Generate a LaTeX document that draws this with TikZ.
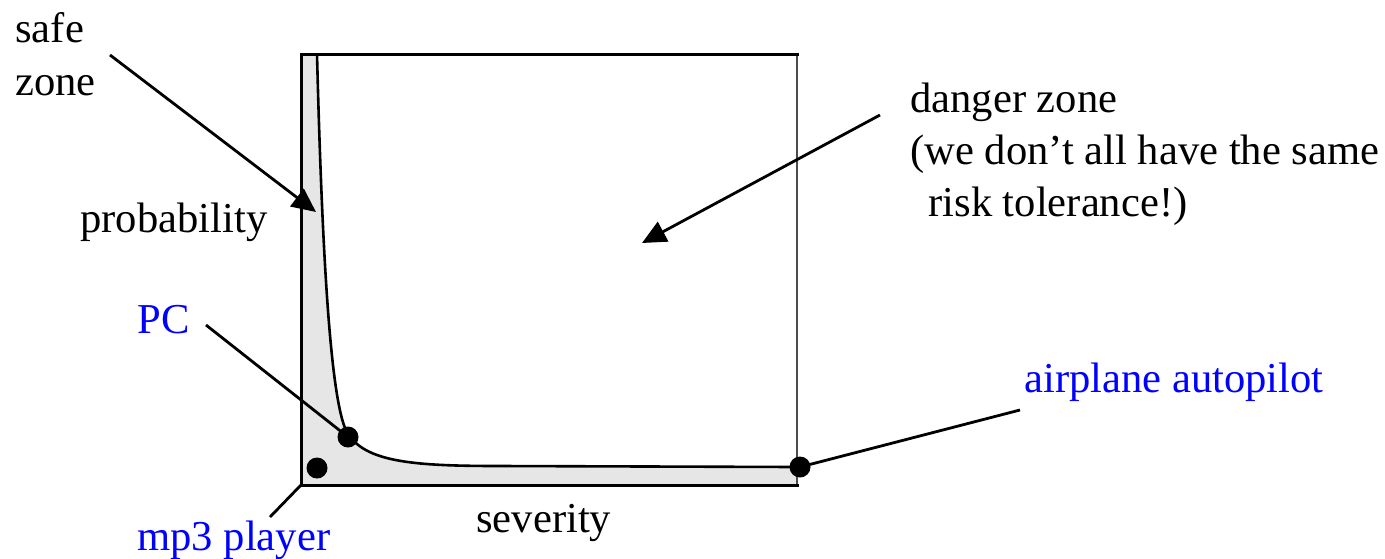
\documentclass[tikz,border=0pt]{standalone}
\usepackage{fontspec}
\setmainfont{Liberation Serif}
\usetikzlibrary{arrows.meta}
\definecolor{zonegray}{RGB}{230,230,230}
\definecolor{lblblue}{RGB}{0,0,255}
\begin{document}
\begin{tikzpicture}[x=0.5pt,y=-0.5pt,
  lbl/.style={font=\fontsize{21.3}{26}\selectfont, inner sep=0pt, anchor=base west},
  bluelbl/.style={lbl, text=lblblue},
  dot/.style={circle, fill=black, inner sep=0pt, minimum size=10.5pt},
  conn/.style={line width=1.4pt},
  arr/.style={conn, -{Triangle[length=12pt,width=11pt]}},
  axis/.style={line width=1.5pt, line cap=rect}
]
\useasboundingbox (0,0) rectangle (1385,558);
% safe region fill
\fill[zonegray] (301,54) -- (317,54) .. controls (322,250) and (330,390) .. (345,428)
  .. controls (360,462) and (410,466) .. (500,466) -- (797,467) -- (797,485) -- (301,485) -- cycle;
% box
\draw[line width=0.6pt, black!70] (797,54) -- (797,485);
\draw[axis] (797,54) -- (301,54) -- (301,485) -- (797,485);
% curve
\draw[line width=1.3pt] (317,54) .. controls (322,250) and (330,390) .. (345,428)
  .. controls (360,462) and (410,466) .. (500,466) -- (797,467);
% labels
\node[lbl] (safe) at (15,42) {safe};
\node[lbl] (zone) at (15,95) {zone};
\node[lbl] (prob) at (80,232) {probability};
\node[lbl] (danger1) at (910,112) {danger zone};
\node[lbl] (danger2) at (910,164) {(we don’t all have the same};
\node[lbl] (danger3) at (928,216) {risk tolerance!)};
\node[lbl] (sev) at (476,532) {severity};
\node[bluelbl] (pc) at (137,333) {PC};
\node[bluelbl] (auto) at (1024,392) {airplane autopilot};
\node[bluelbl] (mp3) at (137,550) {mp3 player};
% dots
\node[dot] (pcdot) at (348,437) {};
\node[dot] (mp3dot) at (317,468) {};
\node[dot] (autodot) at (800,467) {};
% connector endpoints
\coordinate (safestart) at (110,55);
\coordinate (safeend) at (316,212);
\coordinate (dangerstart) at (880,115);
\coordinate (dangerend) at (642,243);
\coordinate (pcstart) at (206,325);
\coordinate (mp3start) at (270,517);
\coordinate (corner) at (301,485);
\coordinate (autostart) at (1020,410);
% connectors
\draw[arr] (safestart) -- (safeend);
\draw[arr] (dangerstart) -- (dangerend);
\draw[conn] (pcstart) -- (pcdot.center);
\draw[conn] (mp3start) -- (corner);
\draw[conn] (autostart) -- (autodot.center);
\end{tikzpicture}
\end{document}
